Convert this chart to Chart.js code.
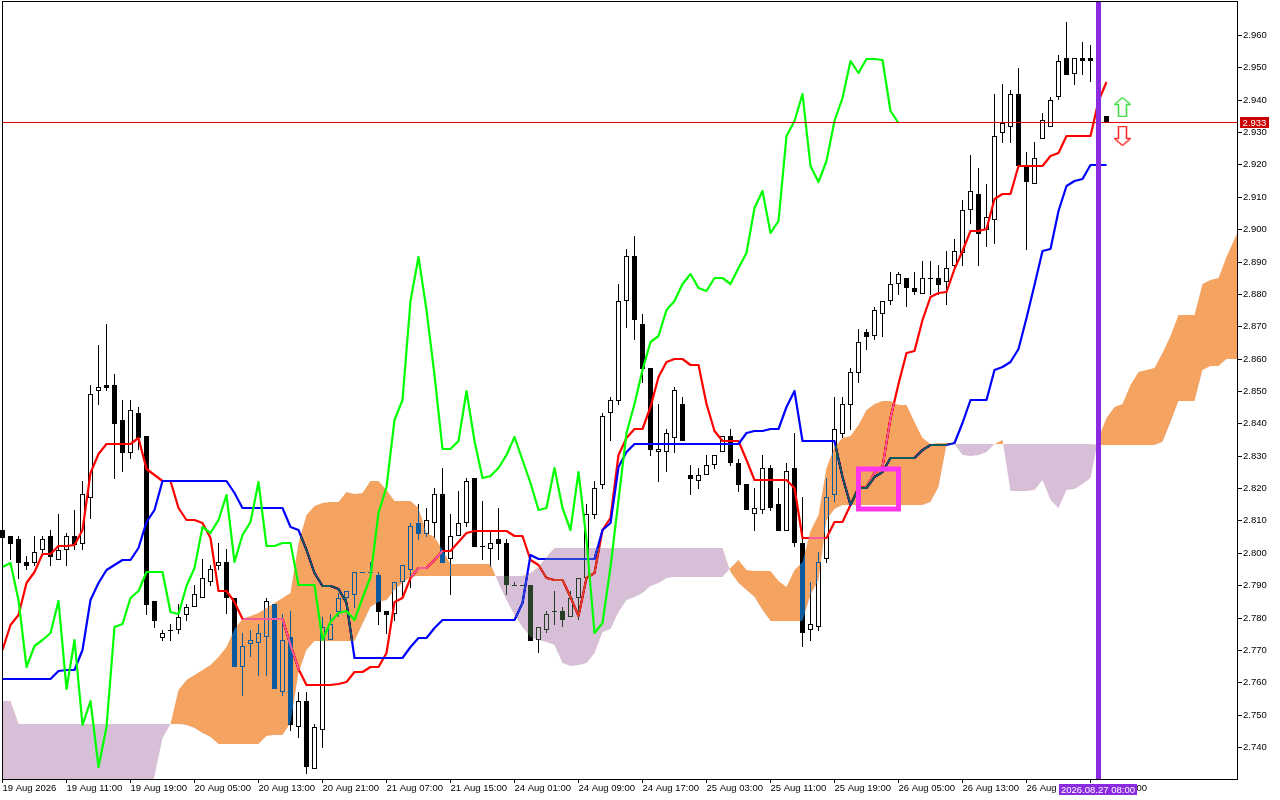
<!DOCTYPE html>
<html>
<head>
<meta charset="utf-8">
<style>html,body{margin:0;padding:0;background:#fff}canvas{display:block}</style>
<script src="https://cdn.jsdelivr.net/npm/chart.js@4/dist/chart.umd.min.js"></script>
</head>
<body>
<canvas id="c" width="1280" height="800"></canvas>
<script>
const opens=[2.8069,2.8051,2.8042,2.7971,2.7968,2.8008,2.8051,2.7977,2.8008,2.8051,
2.8027,2.8168,2.8499,2.8520,2.8520,2.8409,2.8307,2.8431,2.8360,2.7851,
2.7736,2.7761,2.7761,2.7807,2.7832,2.7860,2.7909,2.7958,2.7971,2.7860,
2.7647,2.7718,2.7721,2.7739,2.7841,2.7570,2.7739,2.7462,2.7542,2.7332,
2.7453,2.7730,2.7817,2.7860,2.7869,2.7940,2.7940,2.7931,2.7820,2.7810,
2.7909,2.7946,2.8091,2.8057,2.8091,2.8181,2.7980,2.8051,2.8091,2.8230,
2.8020,2.8011,2.8042,2.8030,2.7900,2.7900,2.7900,2.7730,2.7761,2.7820,
2.7820,2.7801,2.7860,2.7921,2.8116,2.8208,2.8431,2.8468,2.8779,2.8918,
2.8708,2.8570,2.8310,2.8310,2.8356,2.8461,2.8239,2.8221,2.8239,2.8270,
2.8310,2.8360,2.8279,2.8212,2.8119,2.8131,2.8261,2.8150,2.8066,2.8261,
2.8030,2.7761,2.7770,2.7980,2.8178,2.8366,2.8458,2.8557,2.8681,2.8671,
2.8739,2.8779,2.8829,2.8850,2.8819,2.8801,2.8850,2.8850,2.8838,2.8887,
2.8927,2.9060,2.9110,2.8998,2.9029,2.9298,2.9316,2.9418,2.9196,2.9140,
2.9279,2.9316,2.9409,2.9529,2.9480,2.9529,2.9529,2.9520,2.9350];
const highs=[2.8072,2.8051,2.8051,2.7990,2.8051,2.8051,2.8069,2.8119,2.8060,2.8131,
2.8221,2.8520,2.8641,2.8708,2.8551,2.8471,2.8471,2.8449,2.8360,2.7851,
2.7761,2.7780,2.7841,2.7841,2.7900,2.7980,2.7962,2.8030,2.8011,2.7860,
2.7752,2.7761,2.7780,2.7860,2.7841,2.7810,2.7820,2.7570,2.7570,2.7471,
2.7801,2.7810,2.7875,2.7881,2.7940,2.7940,2.7971,2.7940,2.7820,2.7909,
2.7962,2.8091,2.8150,2.8140,2.8199,2.8261,2.8119,2.8190,2.8230,2.8230,
2.8159,2.8063,2.8140,2.8042,2.7909,2.7900,2.7900,2.7770,2.7820,2.7881,
2.7832,2.7881,2.7921,2.8150,2.8221,2.8431,2.8480,2.8829,2.8940,2.8980,
2.8739,2.8570,2.8461,2.8381,2.8511,2.8480,2.8270,2.8261,2.8301,2.8301,
2.8360,2.8381,2.8289,2.8212,2.8199,2.8301,2.8270,2.8199,2.8279,2.8369,
2.8171,2.7909,2.8002,2.8230,2.8480,2.8480,2.8570,2.8690,2.8690,2.8761,
2.8779,2.8869,2.8869,2.8850,2.8869,2.8903,2.8903,2.8890,2.8934,2.8971,
2.9091,2.9230,2.9190,2.9140,2.9418,2.9449,2.9430,2.9498,2.9239,2.9270,
2.9360,2.9409,2.9538,2.9640,2.9529,2.9578,2.9569,2.9529,2.9350];
const lows=[2.8039,2.7977,2.7918,2.7946,2.7958,2.7999,2.7958,2.7977,2.7958,2.8008,
2.8008,2.8106,2.8458,2.8499,2.8227,2.8249,2.8289,2.8317,2.7807,2.7767,
2.7727,2.7727,2.7749,2.7789,2.7832,2.7860,2.7897,2.7946,2.7810,2.7647,
2.7558,2.7678,2.7619,2.7619,2.7579,2.7558,2.7450,2.7428,2.7317,2.7332,
2.7397,2.7730,2.7801,2.7841,2.7829,2.7937,2.7937,2.7777,2.7749,2.7789,
2.7857,2.7891,2.8039,2.8048,2.8045,2.7968,2.7869,2.8051,2.8079,2.8017,
2.7977,2.7955,2.7977,2.7869,2.7897,2.7897,2.7727,2.7690,2.7752,2.7777,
2.7770,2.7801,2.7792,2.7921,2.8106,2.8196,2.8347,2.8458,2.8696,2.8656,
2.8526,2.8298,2.8218,2.8249,2.8307,2.8347,2.8178,2.8196,2.8239,2.8258,
2.8310,2.8267,2.8187,2.8131,2.8066,2.8119,2.8128,2.8066,2.8066,2.8017,
2.7709,2.7727,2.7758,2.7968,2.8156,2.8356,2.8378,2.8526,2.8628,2.8656,
2.8668,2.8767,2.8798,2.8758,2.8798,2.8801,2.8798,2.8798,2.8767,2.8878,
2.8887,2.9017,2.8887,2.8946,2.8955,2.9267,2.9267,2.9196,2.8937,2.9140,
2.9279,2.9316,2.9400,2.9477,2.9446,2.9477,2.9455,2.9360,2.9329];
const closes=[2.8047,2.8027,2.7968,2.7958,2.8002,2.8042,2.7986,2.8008,2.8051,2.8024,
2.8181,2.8490,2.8511,2.8508,2.8397,2.8307,2.8440,2.8356,2.7838,2.7789,
2.7752,2.7758,2.7801,2.7832,2.7872,2.7921,2.7949,2.7971,2.7860,2.7647,
2.7712,2.7730,2.7752,2.7851,2.7579,2.7730,2.7468,2.7542,2.7339,2.7462,
2.7770,2.7780,2.7860,2.7881,2.7940,2.7937,2.7937,2.7817,2.7807,2.7909,
2.7962,2.8082,2.8057,2.8100,2.8181,2.7968,2.8051,2.8091,2.8221,2.8017,
2.8017,2.8030,2.8027,2.7900,2.7897,2.7897,2.7727,2.7770,2.7810,2.7817,
2.7792,2.7860,2.7921,2.8119,2.8199,2.8422,2.8471,2.8779,2.8918,2.8718,
2.8567,2.8317,2.8320,2.8369,2.8502,2.8347,2.8227,2.8239,2.8270,2.8301,
2.8360,2.8279,2.8208,2.8131,2.8140,2.8261,2.8137,2.8066,2.8252,2.8030,
2.7752,2.7780,2.7971,2.8171,2.8381,2.8461,2.8560,2.8650,2.8668,2.8749,
2.8779,2.8829,2.8860,2.8819,2.8807,2.8850,2.8847,2.8826,2.8881,2.8931,
2.9060,2.9119,2.8986,2.9039,2.9288,2.9329,2.9418,2.9196,2.9147,2.9221,
2.9338,2.9400,2.9520,2.9477,2.9529,2.9520,2.9520,2.9366,2.9329];
const tenkan=[2.7699,2.7777,2.7807,2.7906,2.7940,2.7996,2.7996,2.8020,2.8020,2.8024,
2.8069,2.8246,2.8304,2.8335,2.8335,2.8335,2.8335,2.8356,2.8258,2.8239,
2.8221,2.8221,2.8140,2.8100,2.8100,2.8091,2.8045,2.7881,2.7881,2.7848,
2.7795,2.7795,2.7795,2.7795,2.7795,2.7795,2.7715,2.7641,2.7592,2.7592,
2.7592,2.7592,2.7595,2.7601,2.7632,2.7632,2.7647,2.7647,2.7690,2.7848,
2.7860,2.7921,2.7952,2.7952,2.7977,2.8005,2.8005,2.8033,2.8060,2.8067,
2.8067,2.8067,2.8067,2.8067,2.8051,2.8051,2.7977,2.7962,2.7921,2.7915,
2.7915,2.7863,2.7804,2.7921,2.7937,2.8069,2.8109,2.8301,2.8356,2.8384,
2.8384,2.8449,2.8542,2.8591,2.8600,2.8600,2.8579,2.8579,2.8461,2.8375,
2.8344,2.8344,2.8344,2.8286,2.8224,2.8224,2.8224,2.8224,2.8224,2.8199,
2.8045,2.8045,2.8045,2.8045,2.8094,2.8094,2.8147,2.8199,2.8202,2.8246,
2.8264,2.8418,2.8523,2.8616,2.8625,2.8718,2.8789,2.8804,2.8807,2.8878,
2.8934,2.8995,2.8995,2.9001,2.9094,2.9110,2.9110,2.9196,2.9196,2.9196,
2.9196,2.9227,2.9236,2.9288,2.9288,2.9288,2.9288,2.9396,2.9455];
const kijun=[2.7610,2.7610,2.7610,2.7610,2.7610,2.7610,2.7610,2.7635,2.7638,2.7638,
2.7699,2.7854,2.7906,2.7946,2.7962,2.7977,2.7977,2.8014,2.8094,2.8131,
2.8221,2.8221,2.8221,2.8221,2.8221,2.8221,2.8221,2.8221,2.8221,2.8184,
2.8138,2.8138,2.8138,2.8138,2.8138,2.8138,2.8079,2.8069,2.8008,2.7937,
2.7897,2.7897,2.7888,2.7844,2.7675,2.7675,2.7675,2.7675,2.7675,2.7675,
2.7675,2.7709,2.7736,2.7736,2.7767,2.7792,2.7792,2.7792,2.7792,2.7792,
2.7792,2.7792,2.7792,2.7792,2.7792,2.7844,2.7993,2.7980,2.7980,2.7980,
2.7980,2.7980,2.7980,2.7980,2.7980,2.8069,2.8091,2.8264,2.8310,2.8335,
2.8335,2.8335,2.8335,2.8335,2.8335,2.8335,2.8335,2.8335,2.8335,2.8335,
2.8335,2.8335,2.8335,2.8369,2.8375,2.8375,2.8384,2.8384,2.8449,2.8499,
2.8344,2.8344,2.8344,2.8344,2.8344,2.8233,2.8147,2.8199,2.8199,2.8233,
2.8249,2.8292,2.8292,2.8292,2.8292,2.8317,2.8332,2.8332,2.8332,2.8338,
2.8400,2.8471,2.8471,2.8471,2.8564,2.8573,2.8588,2.8631,2.8724,2.8826,
2.8931,2.8940,2.9057,2.9134,2.9150,2.9156,2.9199,2.9199,2.9199];
const chikou=[2.7955,2.7968,2.7854,2.7647,2.7712,2.7730,2.7752,2.7851,2.7579,2.7730,
2.7468,2.7542,2.7339,2.7462,2.7770,2.7780,2.7860,2.7881,2.7940,2.7940,
2.7940,2.7817,2.7810,2.7897,2.7952,2.8079,2.8060,2.8100,2.8178,2.7971,
2.8054,2.8094,2.8218,2.8020,2.8020,2.8030,2.8030,2.7900,2.7900,2.7900,
2.7730,2.7786,2.7814,2.7820,2.7792,2.7860,2.7925,2.8122,2.8202,2.8409,
2.8471,2.8779,2.8915,2.8749,2.8548,2.8320,2.8320,2.8347,2.8499,2.8347,
2.8230,2.8236,2.8261,2.8301,2.8357,2.8286,2.8215,2.8131,2.8137,2.8261,
2.8140,2.8069,2.8249,2.8039,2.7752,2.7783,2.7955,2.8162,2.8369,2.8461,
2.8564,2.8650,2.8671,2.8749,2.8779,2.8832,2.8860,2.8819,2.8810,2.8850,
2.8850,2.8829,2.8881,2.8927,2.9066,2.9119,2.8989,2.9026,2.9288,2.9335,
2.9418,2.9196,2.9147,2.9211,2.9335,2.9406,2.9520,2.9483,2.9526,2.9526,
2.9523,2.9366,2.9329];
const senkouA=[2.7220,2.7220,2.7220,2.7220,2.7220,2.7220,2.7220,2.7220,2.7220,2.7220,
2.7220,2.7220,2.7220,2.7220,2.7220,2.7220,2.7220,2.7220,2.7220,2.7311,
2.7428,2.7471,2.7576,2.7607,2.7622,2.7638,2.7653,2.7678,2.7709,2.7764,
2.7795,2.7804,2.7814,2.7829,2.7844,2.7860,2.7875,2.8030,2.8116,2.8144,
2.8153,2.8156,2.8156,2.8187,2.8181,2.8184,2.8221,2.8221,2.8193,2.8159,
2.8159,2.8159,2.8138,2.8060,2.8048,2.8008,2.7965,2.7965,2.7965,2.7965,
2.7965,2.7965,2.7906,2.7854,2.7807,2.7770,2.7739,2.7730,2.7724,2.7715,
2.7659,2.7650,2.7653,2.7659,2.7690,2.7755,2.7764,2.7817,2.7854,2.7863,
2.7875,2.7897,2.7906,2.7921,2.7925,2.7925,2.7925,2.7925,2.7925,2.7925,
2.7925,2.7952,2.7977,2.7946,2.7943,2.7943,2.7943,2.7912,2.7894,2.7946,
2.7971,2.8067,2.8116,2.8261,2.8326,2.8356,2.8360,2.8394,2.8440,2.8461,
2.8468,2.8468,2.8458,2.8458,2.8403,2.8356,2.8335,2.8338,2.8338,2.8335,
2.8301,2.8298,2.8301,2.8310,2.8335,2.8350,2.8190,2.8190,2.8190,2.8193,
2.8224,2.8162,2.8140,2.8193,2.8196,2.8212,2.8230,2.8356,2.8415,2.8452,
2.8461,2.8517,2.8560,2.8566,2.8570,2.8616,2.8671,2.8736,2.8736,2.8736,
2.8829,2.8844,2.8850,2.8915,2.8971,2.9020];
const senkouB=[2.7542,2.7542,2.7471,2.7471,2.7471,2.7471,2.7471,2.7471,2.7471,2.7471,
2.7471,2.7471,2.7471,2.7471,2.7471,2.7471,2.7471,2.7471,2.7471,2.7471,
2.7471,2.7471,2.7471,2.7468,2.7459,2.7443,2.7431,2.7409,2.7409,2.7409,
2.7409,2.7409,2.7409,2.7434,2.7437,2.7437,2.7474,2.7629,2.7699,2.7727,
2.7727,2.7727,2.7727,2.7727,2.7727,2.7780,2.7832,2.7848,2.7854,2.7884,
2.7906,2.7925,2.7928,2.7928,2.7928,2.7928,2.7928,2.7928,2.7928,2.7928,
2.7928,2.7928,2.7928,2.7928,2.7928,2.7928,2.7937,2.7955,2.7986,2.8014,
2.8014,2.8014,2.8014,2.8014,2.8014,2.8014,2.8014,2.8014,2.8014,2.8014,
2.8014,2.8014,2.8014,2.8014,2.8014,2.8014,2.8014,2.8014,2.8014,2.8014,
2.8014,2.7940,2.7906,2.7884,2.7863,2.7823,2.7789,2.7789,2.7789,2.7789,
2.7789,2.7869,2.7915,2.8100,2.8134,2.8147,2.8147,2.8147,2.8147,2.8147,
2.8147,2.8147,2.8147,2.8147,2.8147,2.8147,2.8156,2.8202,2.8332,2.8335,
2.8335,2.8335,2.8335,2.8335,2.8335,2.8335,2.8335,2.8335,2.8335,2.8335,
2.8335,2.8335,2.8335,2.8335,2.8335,2.8335,2.8335,2.8332,2.8332,2.8332,
2.8332,2.8332,2.8332,2.8332,2.8332,2.8341,2.8403,2.8468,2.8468,2.8468,
2.8566,2.8576,2.8576,2.8600,2.8600,2.8600];
const xTickLabels=["19 Aug 2026","19 Aug 11:00","19 Aug 19:00","20 Aug 05:00","20 Aug 13:00","20 Aug 21:00","21 Aug 07:00","21 Aug 15:00","24 Aug 01:00","24 Aug 09:00","24 Aug 17:00","25 Aug 03:00","25 Aug 11:00","25 Aug 19:00","26 Aug 05:00","26 Aug 13:00","26 Aug 21:00","27 Aug 07:00"];
const yTicks=[2.74,2.75,2.76,2.77,2.78,2.79,2.80,2.81,2.82,2.83,2.84,2.85,2.86,2.87,2.88,2.89,2.90,2.91,2.92,2.93,2.94,2.95,2.96];
const currentPrice=2.9327, currentPriceLabel="2.933";
const eventBar=137, eventLabel="2026.08.27 08:00";
const boxBars=[107,112], boxPrices=[2.8258,2.8134];
const arrowBar=140, arrowUpPrice=2.9376, arrowDownPrice=2.9287;
const FONT='9.5px "Liberation Sans"';
const XMIN=-0.0625, XMAX=154.4375, YMIN=2.72981, YMAX=2.96987;

function xy(a){return a.map((v,i)=>({x:i,y:v}));}
function arrowCanvas(up,outer,inner){
  const c=document.createElement('canvas');c.width=17;c.height=20;
  const g=c.getContext('2d');
  const pts=[[8.5,0.5],[16.5,7.5],[12.5,7.5],[12.5,19.5],[4.5,19.5],[4.5,7.5],[0.5,7.5]];
  g.beginPath();
  pts.forEach((p,i)=>{const y=up?p[1]:20-p[1];i?g.lineTo(p[0],y):g.moveTo(p[0],y);});
  g.closePath();
  g.fillStyle='#fff';g.fill();
  g.strokeStyle=inner;g.lineWidth=2.2;g.stroke();
  g.strokeStyle=outer;g.lineWidth=1;g.stroke();
  return c;
}
const bullish=opens.map((o,i)=>closes[i]>o);
const commonBar={type:'bar',grouped:false,inflateAmount:0,borderSkipped:false,clip:false};
const commonLine={type:'line',pointRadius:0,tension:0,borderJoinStyle:'round'};

const datasets=[
 {...commonBar,id:'wick',order:100,maxBarThickness:1,backgroundColor:'#000',borderWidth:0,
  data:highs.map((h,i)=>({x:i,y:[lows[i],h]}))},
 {...commonBar,id:'body',order:90,maxBarThickness:5,minBarLength:1,
  backgroundColor:bullish.map(b=>b?'#fff':'#000'),borderColor:'#000',borderWidth:1,
  data:opens.map((o,i)=>({x:i,y:[Math.min(o,closes[i]),Math.max(o,closes[i])]}))},
 {...commonLine,id:'tenkan',order:80,borderColor:'#ff0000',borderWidth:2.2,data:xy(tenkan)},
 {...commonLine,id:'kijun',order:70,borderColor:'#0000ff',borderWidth:2.2,data:xy(kijun)},
 {...commonLine,id:'senkouA',order:60,borderWidth:0,data:xy(senkouA),
  fill:{target:5,above:'#0B5B9F',below:'#274027'}},
 {...commonLine,id:'senkouB',order:61,borderWidth:0,data:xy(senkouB),fill:false},
 {...commonLine,id:'chikou',order:50,borderColor:'#00ff00',borderWidth:2.2,data:xy(chikou)},
 {...commonLine,id:'box',order:40,borderColor:'#ff35ee',borderWidth:5,borderJoinStyle:'miter',borderCapStyle:'square',
  data:[{x:boxBars[0],y:boxPrices[0]},{x:boxBars[1],y:boxPrices[0]},{x:boxBars[1],y:boxPrices[1]},{x:boxBars[0],y:boxPrices[1]},{x:boxBars[0],y:boxPrices[0]}]},
 {...commonLine,id:'price',order:30,borderColor:'#e00000',backgroundColor:'#e00000',borderWidth:1,
  data:[{x:XMIN,y:currentPrice},{x:XMAX,y:currentPrice}]},
 {...commonLine,id:'event',order:20,borderColor:'#8a2be2',borderWidth:5,
  data:[{x:eventBar,y:YMIN},{x:eventBar,y:YMAX}]},
 {...commonLine,id:'up',order:10,showLine:false,pointRadius:10,pointStyle:arrowCanvas(true,'#44dd44','#a8eaa8'),
  data:[{x:arrowBar,y:arrowUpPrice}]},
 {...commonLine,id:'down',order:10,showLine:false,pointRadius:10,pointStyle:arrowCanvas(false,'#ff2020','#ffa0a0'),
  data:[{x:arrowBar,y:arrowDownPrice}]}
];

const mt5={
 id:'mt5',
 beforeDraw(chart){
  const g=chart.ctx;g.save();g.fillStyle='#fff';g.fillRect(0,0,chart.width,chart.height);g.restore();
 },
 afterDatasetDraw(chart,args){
  const id=chart.data.datasets[args.index].id;
  if(id==='kijun')chart.ctx.globalCompositeOperation='difference';
  if(id==='senkouA')chart.ctx.globalCompositeOperation='source-over';
 },
 afterDraw(chart){
  const g=chart.ctx,a=chart.chartArea,xs=chart.scales.x,ys=chart.scales.y;
  g.save();
  g.globalCompositeOperation='source-over';
  g.strokeStyle='#000';g.lineWidth=1;
  g.strokeRect(a.left+0.5,a.top-0.5,a.right-a.left-1,a.bottom-a.top+1);
  g.font=FONT;g.textBaseline='middle';g.textAlign='center';
  const py=ys.getPixelForValue(currentPrice);
  g.fillStyle='#cc0000';g.fillRect(a.right+2,py-5.5,29,11);
  g.fillStyle='#fff';g.fillText(currentPriceLabel,a.right+16.5,py+0.5);
  const ex=xs.getPixelForValue(eventBar);
  g.fillStyle='#8a2be2';g.fillRect(ex-39.5,a.bottom+5,78,11);
  g.fillStyle='#fff';g.fillText(eventLabel,ex-0.5,a.bottom+11);
  g.restore();
 }
};

new Chart(document.getElementById('c'),{
 type:'line',
 data:{datasets},
 plugins:[mt5],
 options:{
  responsive:false,animation:false,events:[],
  layout:{autoPadding:false,padding:{left:2,top:2,right:0,bottom:0}},
  plugins:{legend:{display:false},tooltip:{enabled:false},title:{display:false},
   filler:{drawTime:'beforeDatasetDraw',propagate:false}},
  scales:{
   x:{type:'linear',min:XMIN,max:XMAX,offset:false,
    grid:{offset:false,drawOnChartArea:false,drawTicks:true,tickLength:4,color:'#000'},
    border:{display:false},
    afterBuildTicks(s){s.ticks=xTickLabels.map((_,k)=>({value:k*8}));},
    afterFit(s){s.height=21;s.paddingLeft=0;s.paddingRight=0;},
    ticks:{autoSkip:false,maxRotation:0,minRotation:0,align:'start',padding:0,color:'#000',
     font:{family:'Liberation Sans',size:9.5},callback:v=>xTickLabels[Math.round(v/8)]}},
   y:{type:'linear',position:'right',min:YMIN,max:YMAX,beginAtZero:false,
    grid:{drawOnChartArea:false,drawTicks:true,tickLength:4,color:'#000'},
    border:{display:false},
    afterBuildTicks(s){
     s.ticks=yTicks.map(v=>({value:v}));
     if(!s._snap){
      const raw=s.getPixelForValue.bind(s);
      s.getPixelForValue=v=>v===currentPrice?Math.floor(raw(v))+0.5:Math.round(raw(v))+(v===YMIN||v===YMAX?0:1);
      s._snap=true;
     }
    },
    afterFit(s){s.width=42;s.paddingTop=0;s.paddingBottom=0;},
    ticks:{autoSkip:false,padding:1,color:'#000',font:{family:'Liberation Sans',size:9.5},
     callback:v=>v.toFixed(3)}}
  }
 }
});
</script>
</body>
</html>
